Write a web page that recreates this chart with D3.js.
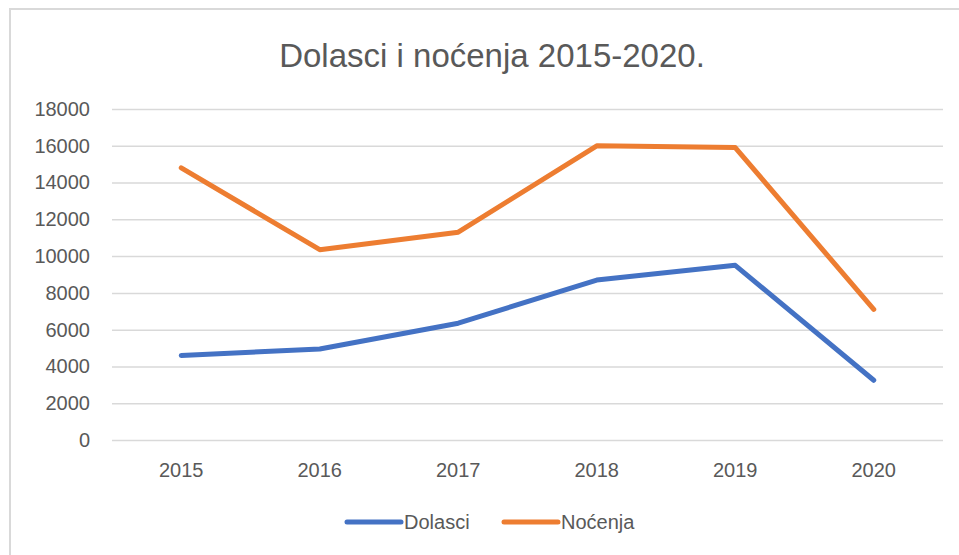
<!DOCTYPE html>
<html>
<head>
<meta charset="utf-8">
<script src="https://cdn.jsdelivr.net/npm/d3@7"></script>
<style>
  body { margin: 0; background: #fff; }
  svg { display: block; }
  text { font-family: "Liberation Sans Narrow", "Liberation Sans", sans-serif; fill: #595959; }
</style>
</head>
<body>
<div id="chart"></div>
<script>
// chart data
const years = ['2015', '2016', '2017', '2018', '2019', '2020']
const dolasci = [4600, 4950, 6350, 8700, 9500, 3250]
const nocenja = [14800, 10350, 11300, 16000, 15900, 7100]
const yTicks = [0, 2000, 4000, 6000, 8000, 10000, 12000, 14000, 16000, 18000]

const seriesNames = ['Dolasci', 'Noćenja']
const colors = ['#4472C4', '#ED7D31']

const W = 959, H = 555
const plot = { left: 112, right: 943, top: 109, bottom: 440 }

let svg = d3.select('#chart')
    .append('svg')
    .attr('width', W)
    .attr('height', H)

// chart frame, only top and left show in the crop
svg.append('rect')
    .attr('x', 10)
    .attr('y', 9)
    .attr('width', 1000)
    .attr('height', 600)
    .attr('fill', '#fff')
    .attr('stroke', '#d9d9d9')
    .attr('stroke-width', 2)

svg.append('text')
    .attr('x', 492)
    .attr('y', 67)
    .attr('text-anchor', 'middle')
    .style('font-size', '33px')
    .text('Dolasci i noćenja 2015-2020.')

let x = d3.scaleBand()
    .domain(years)
    .range([plot.left, plot.right])

let y = d3.scaleLinear()
    .domain([0, 18000])
    .range([plot.bottom, plot.top])

// gridlines + y labels
let yAxis = d3.axisLeft(y)
    .tickValues(yTicks)
    .tickSize(-(plot.right - plot.left))
    .tickPadding(22)
    .tickFormat(d3.format('d'))

let gy = svg.append('g')
    .attr('transform', `translate(${plot.left}, 0)`)
    .call(yAxis)
gy.select('.domain').remove()
gy.selectAll('line').attr('stroke', '#d9d9d9').attr('stroke-width', 1.5)
gy.selectAll('text').style('font-size', '20px').attr('fill', '#595959').style('font-family', null)

let xAxis = d3.axisBottom(x)
    .tickSize(0)
    .tickPadding(23)

let gx = svg.append('g')
    .attr('transform', `translate(0, ${plot.bottom})`)
    .call(xAxis)
gx.select('.domain').remove()
gx.selectAll('text').style('font-size', '20px').attr('fill', '#595959').style('font-family', null)

let line = d3.line()
    .x((d, i) => x(years[i]) + x.bandwidth() / 2)
    .y((d) => y(d))

let allSeries = [dolasci, nocenja]

svg.selectAll('.series')
    .data(allSeries)
    .enter().append('path')
    .attr('class', 'series')
    .attr('d', line)
    .attr('fill', 'none')
    .attr('stroke', (d, i) => colors[i])
    .attr('stroke-width', 5)
    .attr('stroke-linecap', 'round')
    .attr('stroke-linejoin', 'round')

// legend
let legendX = [347, 504]
let legend = svg.selectAll('.legend')
    .data(seriesNames)
    .enter().append('g')
    .attr('class', 'legend')
    .attr('transform', (d, i) => `translate(${legendX[i]}, 522)`)

legend.append('line')
    .attr('x1', 0)
    .attr('x2', 54)
    .attr('stroke', (d, i) => colors[i])
    .attr('stroke-width', 5)
    .attr('stroke-linecap', 'round')

legend.append('text')
    .attr('x', 57)
    .attr('dy', '0.35em')
    .style('font-size', '20px')
    .text((d) => d)
</script>
</body>
</html>
